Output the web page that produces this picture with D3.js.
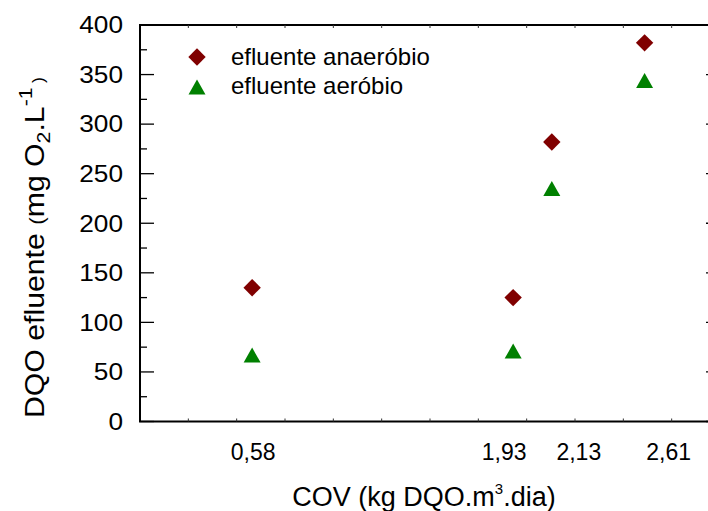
<!DOCTYPE html>
<html>
<head>
<meta charset="utf-8">
<script src="https://cdn.jsdelivr.net/npm/d3@7"></script>
<style>
  html, body { margin: 0; padding: 0; background: #fff; }
  svg { display: block; font-family: Arial, "Liberation Sans", sans-serif; }
</style>
</head>
<body>
<svg id="chart" width="708" height="511"></svg>
<script>
// COV (kg DQO.m3.dia) of each operating phase
const cov = [0.58, 1.93, 2.13, 2.61];
const covLabels = ["0,58", "1,93", "2,13", "2,61"];
// horizontal nudge of each COV label (px)
const covLabelShift = [1, -9, 27, 24];

// DQO of the effluent (mg O2/L)
const anaerobio = [135, 125, 282, 382];
const aerobio = [67, 71, 235, 344];

const yTicks = [0, 50, 100, 150, 200, 250, 300, 350, 400];
const seriesNames = ["efluente anaeróbio", "efluente aeróbio"];
const seriesColors = ["#800000", "#008000"];

const svg = d3.select("#chart");
const x0 = 140, x1 = 720, yTop = 25, yBot = 421.5;

const x = d3.scaleLinear().domain([0, 3]).range([x0, x1]);
const y = d3.scaleLinear().domain([0, 400]).range([yBot, yTop]);

const g = svg.append("g");

// frame
const axisStroke = "#000";
g.append("rect")
  .attr("x", x0).attr("y", yTop)
  .attr("width", x1 - x0).attr("height", yBot - yTop)
  .attr("fill", "none").attr("stroke", axisStroke).attr("stroke-width", 2);

// left and right ticks (major every 50, minor every 25)
const minor = d3.range(25, 400, 50);
yTicks.forEach(v => {
  g.append("line").attr("x1", x0).attr("x2", x0 + 14)
    .attr("y1", y(v)).attr("y2", y(v)).attr("stroke", axisStroke).attr("stroke-width", 1.3);
  g.append("line").attr("x1", x1).attr("x2", x1 - 14)
    .attr("y1", y(v)).attr("y2", y(v)).attr("stroke", axisStroke).attr("stroke-width", 1.3);
});
minor.forEach(v => {
  g.append("line").attr("x1", x0).attr("x2", x0 + 7)
    .attr("y1", y(v)).attr("y2", y(v)).attr("stroke", axisStroke).attr("stroke-width", 1.3);
  g.append("line").attr("x1", x1).attr("x2", x1 - 7)
    .attr("y1", y(v)).attr("y2", y(v)).attr("stroke", axisStroke).attr("stroke-width", 1.3);
});

// small ticks on top and bottom every 0.25
d3.range(0.25, 3, 0.25).forEach(v => {
  g.append("line").attr("x1", x(v)).attr("x2", x(v))
    .attr("y1", yBot).attr("y2", yBot - 3).attr("stroke", "#333").attr("stroke-width", 1);
  g.append("line").attr("x1", x(v)).attr("x2", x(v))
    .attr("y1", yTop).attr("y2", yTop + 3).attr("stroke", "#333").attr("stroke-width", 1);
});

// y tick labels (slightly wide face)
g.selectAll("text.ytick").data(yTicks).join("text")
  .attr("class", "ytick")
  .attr("transform", d => `translate(123,${y(d)}) scale(1.14,1)`)
  .attr("dy", "0.36em")
  .attr("text-anchor", "end")
  .attr("font-size", 23)
  .text(d => d);

// x tick labels at the COV values
g.selectAll("text.xtick").data(cov).join("text")
  .attr("class", "xtick")
  .attr("x", (d, i) => x(d) + covLabelShift[i]).attr("y", 460)
  .attr("text-anchor", "middle")
  .attr("font-size", 23)
  .text((d, i) => covLabels[i]);

// markers
const diamond = (cx, cy, r) => `M${cx},${cy - r}L${cx + r},${cy}L${cx},${cy + r}L${cx - r},${cy}Z`;
const triangle = (cx, cy, w, h) => `M${cx},${cy - h / 2}L${cx + w / 2},${cy + h / 2}L${cx - w / 2},${cy + h / 2}Z`;

g.selectAll("path.anaer").data(anaerobio).join("path")
  .attr("class", "anaer")
  .attr("d", (d, i) => diamond(x(cov[i]), y(d), 8.7))
  .attr("fill", seriesColors[0]);

g.selectAll("path.aer").data(aerobio).join("path")
  .attr("class", "aer")
  .attr("d", (d, i) => triangle(x(cov[i]), y(d), 17, 15))
  .attr("fill", seriesColors[1]);

// legend
const legend = g.append("g");
legend.append("path").attr("d", diamond(197, 57, 8.7)).attr("fill", seriesColors[0]);
legend.append("path").attr("d", triangle(197, 87, 17, 15)).attr("fill", seriesColors[1]);
legend.append("text").attr("x", 231).attr("y", 65).attr("font-size", 24).text(seriesNames[0]);
legend.append("text").attr("x", 231).attr("y", 94).attr("font-size", 24).text(seriesNames[1]);

// x axis title
const xt = g.append("text").attr("x", 424).attr("y", 506)
  .attr("text-anchor", "middle").attr("font-size", 27);
xt.append("tspan").text("COV (kg DQO.m");
xt.append("tspan").attr("font-size", 15).attr("dy", -12).text("3");
xt.append("tspan").attr("dy", 12).text(".dia)");

// y axis title
const yt = g.append("text")
  .attr("transform", "translate(44,418) rotate(-90) scale(1.12,1)")
  .attr("font-size", 27);
yt.append("tspan").text("DQO efluente ");
yt.append("tspan").attr("font-size", 20).text("(");
yt.append("tspan").text("mg O");
yt.append("tspan").attr("font-size", 19).attr("dy", 6).text("2");
yt.append("tspan").attr("dy", -6).text(".L");
yt.append("tspan").attr("font-size", 19).attr("dy", -12).text("-1");
yt.append("tspan").attr("font-size", 16).attr("dy", 12).attr("dx", 4).text(")");
</script>
</body>
</html>
